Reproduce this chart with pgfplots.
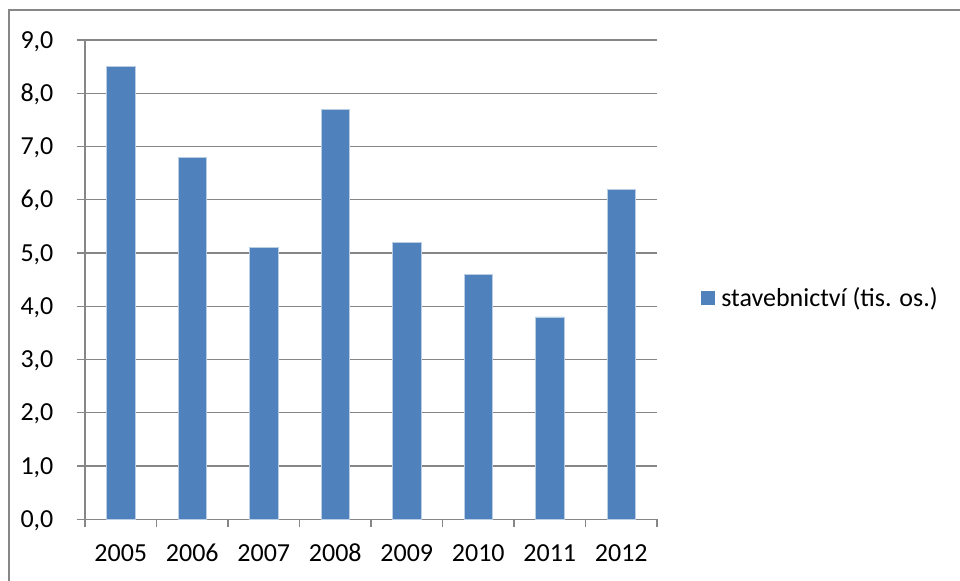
\documentclass[border=0pt]{standalone}
\usepackage{fontspec}
\setmainfont{Carlito}
\usepackage{pgfplots}
\pgfplotsset{compat=1.18}

\definecolor{barblue}{HTML}{4F81BD}
\definecolor{baredge}{HTML}{B9CDE5}
\definecolor{gridgray}{HTML}{868686}
\definecolor{framegray}{HTML}{878787}

\newcommand{\chartfont}{\fontsize{19.5pt}{23pt}\selectfont}

\begin{document}
\begin{tikzpicture}
\useasboundingbox (0,0) rectangle (720pt,435.75pt);
% outer chart frame (only top and left edges fall inside the page)
\draw[framegray, line width=0.9pt] (6.75pt,-10pt) -- (6.75pt,428.25pt) -- (740pt,428.25pt);
\begin{axis}[
  at={(63.75pt,46.3pt)}, anchor=south west,
  scale only axis,
  width=429pt, height=359.5pt,
  xmin=-0.5, xmax=7.5,
  ymin=0, ymax=9,
  axis x line=bottom, axis y line=left,
  axis line style={-, gridgray, line width=0.9pt},
  tick align=outside,
  major tick length=6pt,
  tick style={gridgray, line width=0.9pt},
  xtick={-0.5,0.5,...,7.5},
  xticklabels={},
  extra x ticks={0,1,2,3,4,5,6,7},
  extra x tick labels={2005,2006,2007,2008,2009,2010,2011,2012},
  extra x tick style={major tick length=0pt, tick style={draw=none}, grid=none,
    xticklabel style={anchor=base, inner sep=0pt, yshift=-31.8pt}},
  ytick={0,1,...,9},
  ymajorgrids,
  grid style={gridgray, line width=0.9pt},
  yticklabel={\pgfmathprintnumber[fixed, fixed zerofill, precision=1, use comma]{\tick}},
  yticklabel style={anchor=base east, inner sep=0pt, xshift=-17.5pt, yshift=-6.1pt},
  /pgf/number format/assume math mode=true,
  tick label style={font=\chartfont},
  legend style={draw=none, fill=none, inner sep=0pt,
    at={(1,0.5)}, anchor=west, xshift=33pt, yshift=-13.8pt,
    font=\chartfont, nodes={inner sep=0pt}},
  legend image code/.code={%
    \fill[barblue, draw=none] (0pt,-5.25pt) rectangle (10.5pt,5.25pt);
    \path[draw=none, fill=none] (0pt,0pt) -- (15pt,0pt);},
]
\addplot[ybar, bar width=21.25pt, bar shift=0pt, fill=barblue, draw=baredge, line width=0.4pt]
  coordinates {(0,8.5) (1,6.8) (2,5.1) (3,7.7) (4,5.2) (5,4.6) (6,3.8) (7,6.2)};
\addlegendentry{stavebnictví (tis. os.)}
\end{axis}
\end{tikzpicture}
\end{document}
